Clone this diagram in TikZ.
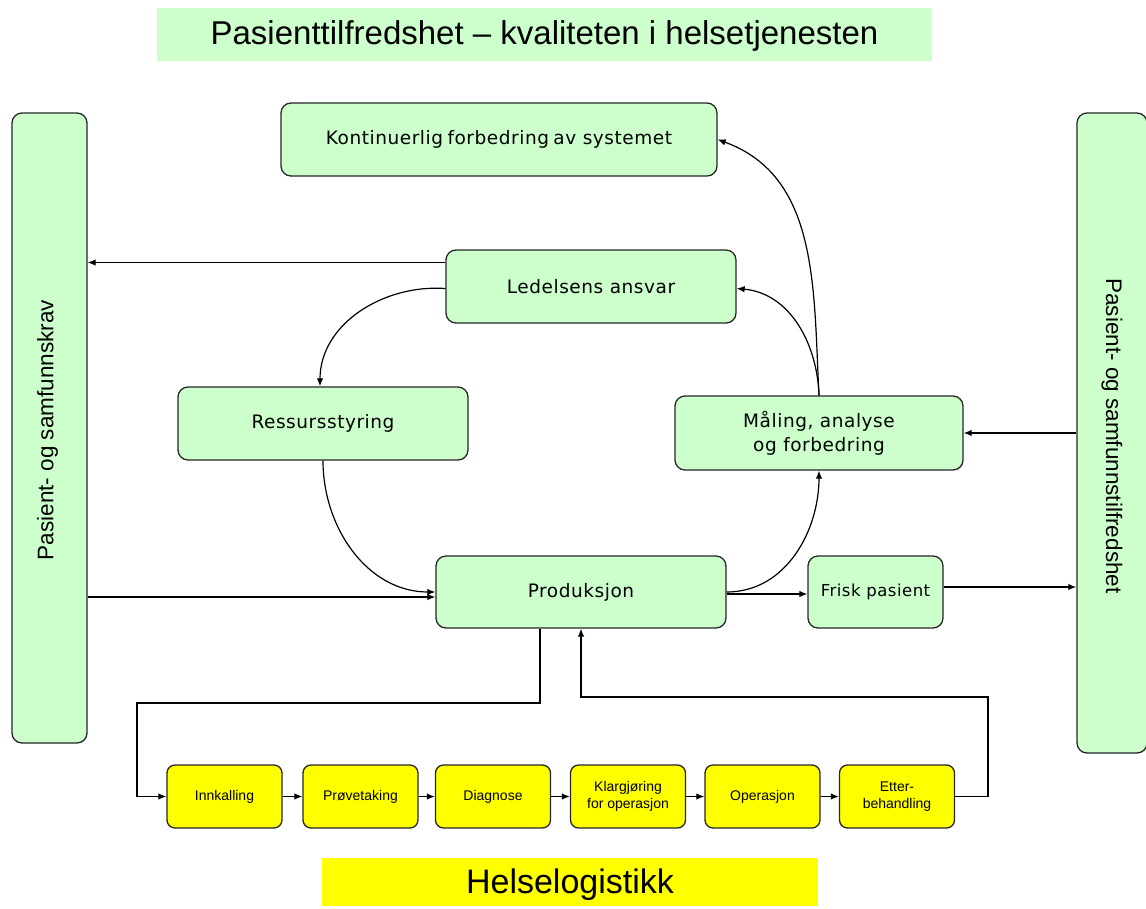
\documentclass[tikz,border=0pt]{standalone}
\usepackage{fontspec}
\setmainfont{Liberation Sans}
\newfontfamily\boxfont[LetterSpace=3]{DejaVu Sans}
\usetikzlibrary{arrows.meta,calc}
\definecolor{boxgreen}{HTML}{CCFFCC}
\definecolor{boxyellow}{HTML}{FFFF00}
\begin{document}
\begin{tikzpicture}[x=1pt,y=-1pt,
  gbox/.style={draw=black!85, fill=boxgreen, rounded corners=10pt, line width=1.3pt, inner sep=0pt, align=center, font=\boxfont\fontsize{18.5}{24}\selectfont},
  ybox/.style={draw=black!85, fill=boxyellow, rounded corners=8pt, line width=1.3pt, inner sep=0pt, align=center, minimum width=115pt, minimum height=63pt, font=\fontsize{14}{17}\selectfont},
  band/.style={inner sep=0pt},
  arr/.style={draw=black, line width=1.2pt, -{Latex[length=8pt,width=6.5pt]}},
  ln/.style={draw=black, line width=1.2pt}]
\useasboundingbox (0,0) rectangle (1146,908);
% bands
\node[band, fill=boxgreen, minimum width=775pt, minimum height=53pt] (title) at (544.5,34.5) {};
\node[font=\fontsize{33}{36}\selectfont] at ([yshift=-1pt]title.center) {Pasienttilfredshet -- kvaliteten i helsetjenesten};
\node[band, fill=boxyellow, minimum width=496pt, minimum height=48pt] (helse) at (570,882) {};
\node[font=\fontsize{34}{38}\selectfont] at ([yshift=-3pt]helse.center) {Helselogistikk};
% side bars
\node[gbox, minimum width=75pt, minimum height=630pt] (leftbar) at (49.5,428) {};
\node[rotate=90, font=\fontsize{22.5}{26}\selectfont] at ([xshift=-2pt,yshift=-2pt]leftbar.center) {Pasient- og samfunnskrav};
\node[gbox, minimum width=70pt, minimum height=640pt] (rightbar) at (1112,433) {};
\node[rotate=-90, font=\fontsize{22.5}{26}\selectfont] at ([yshift=-3pt]rightbar.center) {Pasient- og samfunnstilfredshet};
% main boxes
\node[gbox, minimum width=436pt, minimum height=73pt] (kont) at (499,139.5) {Kontinuerlig\hspace{-2pt} forbedring\hspace{-2pt} av systemet};
\node[gbox, minimum width=290pt, minimum height=73pt] (led) at (591,286.5) {Ledelsens ansvar};
\node[gbox, minimum width=290pt, minimum height=73pt] (res) at (323,423.5) {Ressursstyring};
\node[gbox, minimum width=288pt, minimum height=74pt] (mal) at (819,433) {Måling, analyse\\og forbedring};
\node[gbox, minimum width=290pt, minimum height=72pt] (prod) at (581,592) {Produksjon};
\node[gbox, minimum width=135pt, minimum height=72pt, font=\boxfont\fontsize{16.5}{20}\selectfont] (frisk) at (875.5,592) {Frisk pasient};
% yellow chain
\node[ybox] (inn) at (224.5,796.5) {Innkalling};
\node[ybox] (pro) at (360.5,796.5) {Prøvetaking};
\node[ybox] (dia) at (493,796.5) {Diagnose};
\node[ybox] (kla) at (628,796.5) {Klargjøring\\for operasjon};
\node[ybox] (ope) at (762.5,796.5) {Operasjon};
\node[ybox] (ett) at (897,796.5) {Etter-\\behandling};
% connectors
\coordinate (lw1) at ([yshift=24pt]led.west);
\draw[arr] (lw1) -- (lw1 -| leftbar.east);
\draw[arr] ([yshift=-2pt]led.west) to[out=176,in=90] ([xshift=-3pt]res.north);
\draw[arr] (res.south) to[out=-90,in=180] (prod.west);
\coordinate (pw) at ([yshift=-5pt]prod.west);
\draw[arr] (pw -| leftbar.east) -- (pw);
\draw[arr] (prod.east) to[out=0,in=-90] (mal.south);
\coordinate (pe) at ([yshift=-2pt]prod.east);
\draw[arr] (pe) -- (pe -| frisk.west);
\coordinate (fe) at ([yshift=5pt]frisk.east);
\draw[arr] (fe) -- (fe -| rightbar.west);
\draw[arr] (mal.east -| rightbar.west) -- (mal.east);
\draw[arr] (mal.north) to[out=92,in=-5] ([yshift=-2pt]led.east);
\draw[arr] (mal.north) to[out=93,in=-20] (kont.east);
\draw[arr] ([xshift=-41pt]prod.south) |- (137,703) |- (inn.west);
\draw[arr] (inn) -- (pro);
\draw[arr] (pro) -- (dia);
\draw[arr] (dia) -- (kla);
\draw[arr] (kla) -- (ope);
\draw[arr] (ope) -- (ett);
\draw[arr] (ett.east) -| (988,697) -| (prod.south);
\end{tikzpicture}
\end{document}
